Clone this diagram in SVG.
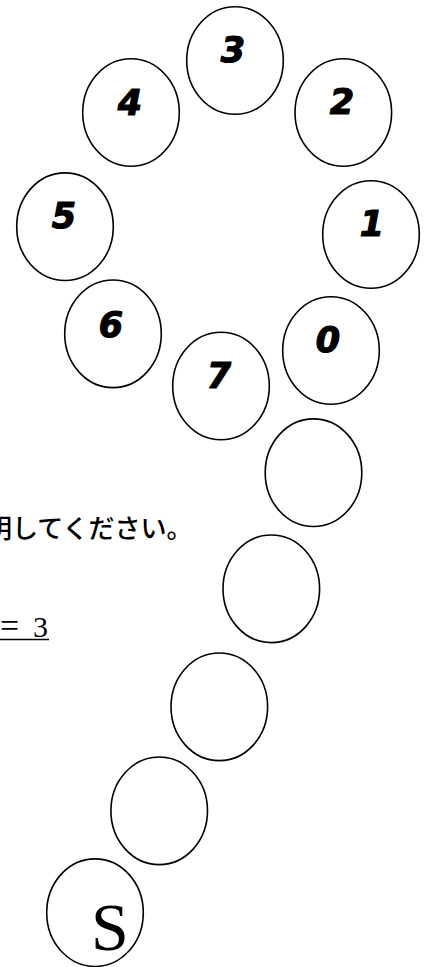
<svg xmlns="http://www.w3.org/2000/svg" width="430" height="967" viewBox="0 0 430 967">
<style>
.c{fill:#fff;stroke:#000;stroke-width:1.6}
.d{font-family:"DejaVu Sans",sans-serif;font-weight:bold;font-style:italic;font-size:35px;text-anchor:middle;fill:#000;stroke:#000;stroke-width:1.2;stroke-linejoin:round}
.s{font-family:"Liberation Serif","Times New Roman",serif;fill:#000}
.j{font-family:"Noto Sans CJK JP","Noto Sans",sans-serif;font-size:26px;font-weight:500;fill:#000}
</style>
<rect width="430" height="967" fill="#fff"/>
<g id="n3"><ellipse class="c" cx="235" cy="60.5" rx="48.3" ry="53.8"/><text class="d" x="233" y="62">3</text></g>
<g id="n4"><ellipse class="c" cx="131" cy="112.5" rx="48.3" ry="53.8"/><text class="d" x="130" y="115">4</text></g>
<g id="n2"><ellipse class="c" cx="343.3" cy="112.5" rx="48.3" ry="53.8"/><text class="d" x="342" y="114">2</text></g>
<g id="n5"><ellipse class="c" cx="65" cy="226.7" rx="48.3" ry="53.8"/><text class="d" x="64" y="228">5</text></g>
<g id="n1"><ellipse class="c" cx="371" cy="234.5" rx="48.3" ry="53.8"/><text class="d" x="372" y="236">1</text></g>
<g id="n6"><ellipse class="c" cx="113" cy="333.8" rx="48.3" ry="53.8"/><text class="d" x="111" y="337">6</text></g>
<g id="n7"><ellipse class="c" cx="221" cy="386" rx="48.3" ry="53.8"/><text class="d" x="219" y="388">7</text></g>
<g id="n0"><ellipse class="c" cx="331" cy="350.5" rx="48.3" ry="53.8"/><text class="d" x="328" y="352">0</text></g>
<g id="na"><ellipse class="c" cx="313.5" cy="472.7" rx="48.3" ry="53.8"/></g>
<g id="nb"><ellipse class="c" cx="271.3" cy="588.8" rx="48.3" ry="53.8"/></g>
<g id="nc"><ellipse class="c" cx="219.3" cy="706.8" rx="48.3" ry="53.8"/></g>
<g id="nd"><ellipse class="c" cx="159.2" cy="810.8" rx="48.3" ry="53.8"/></g>
<g id="ns"><ellipse class="c" cx="95" cy="912.7" rx="48.3" ry="53.8"/><text class="s" x="110" y="950" font-size="68" text-anchor="middle">S</text></g>
<g id="connectors"></g>
<g id="texts">
<text class="j" x="-14" y="538">明してください。</text>
<text class="s" font-size="30" y="637"><tspan x="0" font-size="34">=</tspan><tspan x="33">3</tspan></text>
<line x1="0" y1="639.5" x2="49" y2="639.5" stroke="#000" stroke-width="1.3"/>
</g>
</svg>
